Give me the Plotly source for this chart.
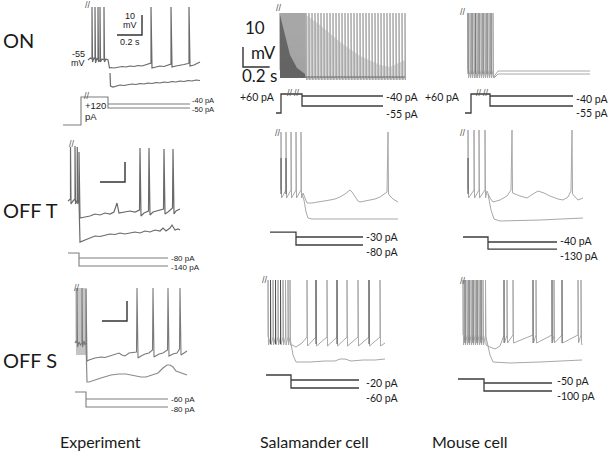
import plotly.graph_objects as go

W, H = 609, 460

# time in ms from the end of the conditioning step, Vm in mV, current in pA

# ON - experiment
on_exp_hi_t = [-160, -140, -128, -128, -124, -112, -104, -104, -100, -88, -80, -80, -76, -64, -64, -60, -48, -32, -32, -28, -16,
               0, 12, 24, 48, 80, 112, 144, 176, 208, 240, 272, 304, 336, 344, 344, 352, 384, 416, 448, 480, 504, 504,
               512, 544, 576, 608, 640, 648, 648, 656, 688, 720, 736]
on_exp_hi_v = [-55, -54, -54.5, -28.5, -56, -54, -54.5, -28.5, -56.5, -54, -55, -28.5, -56, -55, -28.5, -56, -54.5, -55, -28.5, -56, -54.5,
               -55, -59, -58.75, -59, -58.5, -58.25, -58.5, -58, -58.25, -57.75, -58, -57.5, -57, -56.5, -28.5, -59, -58.5, -58, -58.25, -57.5, -57, -28.5,
               -58.5, -58, -57.75, -57.25, -56.75, -56.5, -28.5, -58, -57.5, -56.75, -56]
on_exp_lo_t = [16, 20, 40, 64, 96, 128, 160, 192, 224, 256, 288, 320, 352, 384, 416, 448, 480, 512, 544, 576, 608, 640, 672, 704, 736]
on_exp_lo_v = [-61.5, -68, -68.5, -68, -67.5, -67.75, -67.25, -67, -67.25, -66.75, -67, -66.5, -66.75, -66.25, -66.5, -66,
               -66.25, -65.75, -66, -65.5, -65.75, -65.25, -65.5, -65, -65.25]
on_exp_prot_t = [-360, -216, 0, 656]
on_exp_prot_i = [-92.5, -22.5]
on_exp_steps = [-40, -50]
on_exp_pulse = 120
on_exp_rest = -55

# ON - salamander cell
on_sal_burst = [-165, -157.5, -150, -142.5, -135, -127.5, -120, -112.5, -105, -97.5, -90, -82.5, -75, -67.5, -60,
                -52.5, -45, -37.5, -30, -22.5, -15, -7.5, 0, 7.5, 15, 22.5]
on_sal_dark_t = [-165, -127.5, -90, -37.5, 22.5]
on_sal_dark_v = [-28.5, -38.5, -48.5, -55, -58]
on_sal_spikes = [30, 52.5, 75, 97.5, 120, 142.5, 165, 187.5, 210, 232.5, 255, 277.5, 300, 322.5, 345, 367.5, 390,
                 412.5, 435, 457.5, 480, 502.5, 525, 547.5, 570, 592.5, 615, 637.5, 660, 682.5, 705, 727.5, 750, 772.5]
on_sal_env_t = [30, 135, 285, 435, 585, 660, 772.5]
on_sal_env_v = [-28.5, -33.5, -42, -49, -53.5, -54.5, -51]
on_sal_lo_t = [22.5, 772.5]
on_sal_lo_v = [-59.5, -59.5]
on_sal_prot_t = [-195, -157.5, 0, 607.5]
on_sal_prot_i = [-65.5, -37]
on_sal_steps = [-40, -55]
on_sal_pulse = 60

# ON - mouse cell
on_mou_burst_dark = [-165, -135, -108.75, -82.5, -52.5, -22.5, 7.5]
on_mou_burst_light = [-150, -120, -97.5, -67.5, -37.5, -7.5, 22.5]
on_mou_hi_t = [30, 37.5, 60, 750]
on_mou_hi_v = [-60, -58.5, -56.5, -56.5]
on_mou_lo_t = [30, 37.5, 60, 750]
on_mou_lo_v = [-60, -59.5, -58, -58]
on_mou_prot_t = [-187.5, -142.5, 0, 622.5]
on_mou_prot_i = [-65.5, -37]
on_mou_steps = [-40, -55]
on_mou_pulse = 60

# OFF T - experiment
offt_exp_hi_t = [-88, -76, -68, -68, -64, -48, -32, -32, -28, -20, -14, -14, -10, -4, 0, 0,
                 8, 48, 88, 128, 168, 208, 248, 280, 304, 320, 368, 408, 448, 484, 488, 496, 520, 556, 560, 568,
                 592, 624, 648, 676, 680, 688, 712, 748, 752, 760, 776, 808]
offt_exp_hi_v = [-55.5, -55, -54.5, -28.5, -57, -55.5, -54.5, -28, -57, -56, -55, -28.5, -57, -56, -55, -31,
                 -64, -63.5, -63, -62, -62.5, -61.5, -62, -61, -56.5, -61.5, -61, -60.5, -61, -60, -29, -63, -61.5, -60.5, -29, -62.5,
                 -61, -60.5, -60, -59.5, -29.5, -62, -61, -59, -29.5, -62, -60.5, -59.5]
offt_exp_lo_t = [0, 8, 48, 88, 128, 168, 208, 248, 288, 328, 368, 408, 448, 488, 528, 568, 608, 648, 672, 696, 728, 744, 768, 792, 808]
offt_exp_lo_v = [-55, -76, -75, -74, -73, -73.25, -72.5, -72, -72.25, -71.5, -72, -71.5, -71, -71.5, -70.5, -71, -70, -70.5,
                 -69, -70.5, -69, -67.5, -70, -69.5, -70]
offt_exp_prot_t = [-88, 0, 712]
offt_exp_prot_i = [-42.5]
offt_exp_steps = [-80, -140]

# OFF T - salamander cell
offt_sal_burst = [-112.5, -75, -37.5, 0, 37.5]
offt_sal_hi_t = [52.5, 82.5, 120, 180, 255, 292.5, 330, 367.5, 390, 405, 420, 442.5, 465, 480, 517.5, 555, 592.5, 630,
                 667.5, 682.5, 690, 694, 705, 727.5, 765]
offt_sal_hi_v = [-57.5, -62.5, -62.5, -62, -61, -60.5, -59.5, -58, -56.5, -56, -57, -59.5, -61.5, -62, -61.5, -61, -60.5, -59.5,
                 -58, -57, -27, -58, -59, -60.5, -62]
offt_sal_lo_t = [45, 60, 75, 90, 120, 765]
offt_sal_lo_v = [-58, -61, -67, -70, -70.5, -70.5]
offt_sal_prot_t = [-195, 0, 502.5]
offt_sal_prot_i = [0]
offt_sal_steps = [-30, -80]

# OFF T - mouse cell
offt_mou_burst = [-150, -105, -67.5, -22.5]
offt_mou_hi_t = [-7.5, 15, 37.5, 90, 142.5, 172.5, 180, 184, 240, 292.5, 337.5, 375, 420, 465, 525, 562.5, 600, 622.5,
                 630, 634, 675, 712.5]
offt_mou_hi_v = [-56.5, -60, -62, -61, -59, -56, -26, -57.5, -59, -60, -58, -56.5, -57.5, -59, -60.5, -61, -59.5, -56.5,
                 -26, -58, -61, -60]
offt_mou_lo_t = [0, 22.5, 45, 90, 390, 712.5]
offt_mou_lo_v = [-58, -66, -70.5, -71.5, -71, -70]
offt_mou_prot_t = [-187.5, 0, 517.5]
offt_mou_prot_i = [22.5]
offt_mou_steps = [-40, -130]

# OFF S - experiment
offs_exp_burst = [-80, -72, -64, -56, -48, -40, -32, -24, -16, -8, 0]
offs_exp_hi_t = [-88, -80, -72, -72, -68, -56, -44, -32, -32, -28, -16, -8, 0, 0,
                 8, 24, 72, 120, 152, 184, 232, 264, 288, 312, 344, 384, 404, 408, 416, 440, 472, 504, 532, 536,
                 544, 584, 616, 652, 656, 664, 696, 728, 748, 752, 760, 784, 808]
offs_exp_hi_v = [-55, -54, -55, -27.5, -57, -54.5, -56, -55, -27.5, -57, -54, -56, -55, -28,
                 -64, -63.5, -62.5, -62, -62.25, -61.5, -60.5, -60, -61, -61.5, -60, -59.5, -59.5, -27.5, -62.5, -61.5, -60.5, -60, -58.5, -27.5,
                 -62, -60.5, -60, -58.5, -27.5, -61.5, -60.5, -60, -58, -27.5, -61, -60, -59]
offs_exp_lo_t = [0, 8, 24, 64, 120, 200, 264, 320, 384, 440, 480, 528, 576, 616, 648, 672, 696, 720, 760, 808]
offs_exp_lo_v = [-55, -74.5, -74.5, -73.5, -72.5, -71, -70.5, -70.5, -71.5, -72, -72, -71, -70, -67.5, -66, -66, -67, -69, -70, -71]
offs_exp_prot_t = [-88, 0, 656]
offs_exp_prot_i = [-42.5]
offs_exp_steps = [-60, -80]

# OFF S - salamander cell
offs_sal_burst = [-172.5, -153.75, -135, -116.25, -97.5, -78.75, -60, -41.25, -22.5, -7.5]
offs_sal_mid_t = [7.5, 37.5, 82.5]
offs_sal_mid_v = [-59.5, -60.5, -58.5]
offs_sal_spikes = [120, 187.5, 270, 345, 420, 502.5, 585, 667.5]
offs_sal_end = [705, -58.5]
offs_sal_dark = [-153.75, -116.25, -78.75, 187.5, 345, 585]
offs_sal_lo_t = [-7.5, 15, 37.5, 142.5, 255, 330, 367.5, 405, 450, 540, 630, 705]
offs_sal_lo_v = [-56, -64.5, -68, -68, -67.5, -67.5, -66.5, -66.5, -67.5, -67, -67, -66.5]
offs_sal_prot_t = [-187.5, 0, 510]
offs_sal_prot_i = [5]
offs_sal_steps = [-20, -60]

# OFF S - mouse cell
offs_mou_burst = [-157.5, -142.5, -127.5, -112.5, -97.5, -82.5, -67.5, -52.5, -37.5, -22.5, -7.5, 11.25]
offs_mou_mid_t = [45, 82.5, 120]
offs_mou_mid_v = [-61, -62, -60.5]
offs_mou_spikes = [150, 172.5, 217.5, 367.5, 390, 510, 525, 585, 705, 727.5]
offs_mou_end = [735, -60]
offs_mou_dark = [-142.5, -112.5, -82.5, -52.5, -22.5, 150, 367.5, 510, 585]
offs_mou_lo_t = [15, 45, 67.5, 195, 420, 735]
offs_mou_lo_v = [-56, -65, -68.5, -69, -68.5, -67.5]
offs_mou_prot_t = [-195, 0, 510]
offs_mou_prot_i = [-25]
offs_mou_steps = [-50, -100]

scale_ms = 200
scale_mv = 10

row_names = ["ON", "OFF T", "OFF S"]
col_names = ["Experiment", "Salamander cell", "Mouse cell"]

EXP = '#6a6a6a'
EXP_PROT = '#7c7c7c'
MOD = '#a8a8a8'
MOD_DARK = '#505050'
PROT = '#3c3c3c'

# panel geometry in pixels: column span, row span, x pixel of t=0, ms per px,
# pixel/value anchor for Vm (0.5 mV per px) and for current
panels = [
    dict(cols=(55, 215), rows=(0, 135), step=108, ms=8, vpy=60, v0=-55, ipy=104, i0=-40, pa=2.5),
    dict(cols=(230, 410), rows=(0, 135), step=302, ms=7.5, vpy=78, v0=-60, ipy=96, i0=-40, pa=1.5),
    dict(cols=(420, 605), rows=(0, 135), step=490, ms=7.5, vpy=78, v0=-60, ipy=96, i0=-40, pa=1.5),
    dict(cols=(55, 215), rows=(125, 280), step=79, ms=8, vpy=200, v0=-55, ipy=258, i0=-80, pa=7.5),
    dict(cols=(230, 410), rows=(125, 280), step=296, ms=7.5, vpy=198, v0=-60, ipy=237, i0=-30, pa=6.25),
    dict(cols=(420, 605), rows=(125, 280), step=488, ms=7.5, vpy=198, v0=-60, ipy=242, i0=-40, pa=12.5),
    dict(cols=(55, 215), rows=(270, 420), step=86, ms=8, vpy=343, v0=-55, ipy=399, i0=-60, pa=2.5),
    dict(cols=(230, 410), rows=(270, 420), step=291, ms=7.5, vpy=346, v0=-60, ipy=380, i0=-20, pa=5),
    dict(cols=(420, 605), rows=(270, 420), step=484, ms=7.5, vpy=345, v0=-60, ipy=383, i0=-50, pa=6.25),
]

fig = go.Figure()
layout = dict(width=W, height=H, margin=dict(l=0, r=0, t=0, b=0), showlegend=False,
              paper_bgcolor='white', plot_bgcolor='rgba(0,0,0,0)')


def name(prefix, n, long=False):
    if long:
        return prefix + ('axis' if n == 1 else 'axis%d' % n)
    return prefix if n == 1 else '%s%d' % (prefix, n)


for k, p in enumerate(panels, start=1):
    c0, c1 = p['cols']
    r0, r1 = p['rows']
    layout[name('x', k, True)] = dict(domain=[c0 / W, c1 / W], visible=False, anchor=name('y', 2 * k - 1),
                                      range=[(c0 - p['step']) * p['ms'], (c1 - p['step']) * p['ms']])
    ydom = [1 - r1 / H, 1 - r0 / H]
    layout[name('y', 2 * k - 1, True)] = dict(domain=ydom, visible=False, anchor=name('x', k),
                                              range=[p['v0'] - (r1 - p['vpy']) * 0.5, p['v0'] + (p['vpy'] - r0) * 0.5])
    layout[name('y', 2 * k, True)] = dict(visible=False, anchor=name('x', k), overlaying=name('y', 2 * k - 1),
                                          range=[p['i0'] - (r1 - p['ipy']) * p['pa'], p['i0'] + (p['ipy'] - r0) * p['pa']])


def add(k, kind, t, v, color, width=1.0, fill=None, fillcolor=None):
    yid = 2 * k - 1 if kind == 'v' else 2 * k
    fig.add_trace(go.Scatter(x=t, y=v, mode='lines', line=dict(color=color, width=width),
                             fill=fill, fillcolor=fillcolor,
                             xaxis=name('x', k), yaxis=name('y', yid), hoverinfo='skip'))


def train(times, peak, trough, thresh, w=4):
    t, v = [], []
    for s in times:
        t += [s, s, s + w]
        v += [thresh, peak, trough]
    return t, v


def sticks(times, lo, hi):
    t, v = [], []
    for s in times:
        t += [s, s, None]
        v += [lo, hi, None]
    return t, v


def protocol(k, ts, pre, steps, color, width):
    x, y = [ts[0]], [pre[0]]
    for j in range(1, len(pre)):
        x += [ts[j], ts[j]]
        y += [pre[j - 1], pre[j]]
    lo = min(steps)
    x += [ts[-2], ts[-2], ts[-1]]
    y += [pre[-1], lo, lo]
    add(k, 'i', x, y, color, width)
    for s in steps:
        if s != lo:
            add(k, 'i', [ts[-2], ts[-1]], [s, s], color, width)


def scalebar(k, t, v, side):
    if side == 'right':
        add(k, 'v', [t - scale_ms, t, t], [v, v, v + scale_mv], '#333333', 1.4)
    else:
        add(k, 'v', [t, t, t + scale_ms], [v + scale_mv, v, v], '#333333', 1.4)


# ---- ON ----
add(1, 'v', on_exp_lo_t, on_exp_lo_v, EXP, 1.2)
add(1, 'v', on_exp_hi_t, on_exp_hi_v, EXP, 1.2)
scalebar(1, 272, -42.5, 'right')
protocol(1, on_exp_prot_t, on_exp_prot_i, on_exp_steps, EXP_PROT, 1.1)

add(2, 'v', on_sal_env_t + [772.5, 30], on_sal_env_v + [-61, -61], 'rgba(0,0,0,0)', 0, 'toself', '#d8d8d8')
t, v = train(on_sal_burst, -27.5, -60, -56)
add(2, 'v', t, v, '#a2a2a2', 1.0)
add(2, 'v', on_sal_dark_t + [22.5, -165], on_sal_dark_v + [-60, -60], 'rgba(0,0,0,0)', 0, 'toself', 'rgba(50,50,50,0.55)')
t, v = train(on_sal_spikes, -27.5, -61, -59.5)
add(2, 'v', t, v, MOD, 1.0)
add(2, 'v', on_sal_lo_t, on_sal_lo_v, '#666666', 1.0)
scalebar(2, -442.5, -54.5, 'left')
protocol(2, on_sal_prot_t, on_sal_prot_i, on_sal_steps, PROT, 1.3)

t, v = train(sorted(on_mou_burst_dark + on_mou_burst_light), -27.5, -60, -56)
add(3, 'v', t, v, MOD, 1.0)
t, v = sticks(on_mou_burst_dark, -58, -27.5)
add(3, 'v', t, v, '#7a7a7a', 1.0)
add(3, 'v', on_mou_lo_t, on_mou_lo_v, MOD, 1.0)
add(3, 'v', on_mou_hi_t, on_mou_hi_v, MOD, 1.0)
protocol(3, on_mou_prot_t, on_mou_prot_i, on_mou_steps, PROT, 1.3)

# ---- OFF T ----
add(4, 'v', offt_exp_lo_t, offt_exp_lo_v, EXP, 1.2)
add(4, 'v', offt_exp_hi_t, offt_exp_hi_v, EXP, 1.2)
scalebar(4, 368, -46, 'right')
protocol(4, offt_exp_prot_t, offt_exp_prot_i, offt_exp_steps, EXP_PROT, 1.1)

add(5, 'v', offt_sal_lo_t, offt_sal_lo_v, MOD, 1.0)
t, v = train(offt_sal_burst, -27, -60, -56)
add(5, 'v', t + offt_sal_hi_t, v + offt_sal_hi_v, MOD, 1.0)
t, v = sticks(offt_sal_burst[:2], -58, -40)
add(5, 'v', t, v, MOD_DARK, 1.0)
protocol(5, offt_sal_prot_t, offt_sal_prot_i, offt_sal_steps, PROT, 1.3)

add(6, 'v', offt_mou_lo_t, offt_mou_lo_v, MOD, 1.0)
t, v = train(offt_mou_burst, -26, -60, -56)
add(6, 'v', t + offt_mou_hi_t, v + offt_mou_hi_v, MOD, 1.0)
t, v = sticks(offt_mou_burst[:1], -58, -40)
add(6, 'v', t, v, MOD_DARK, 1.0)
protocol(6, offt_mou_prot_t, offt_mou_prot_i, offt_mou_steps, PROT, 1.3)

# ---- OFF S ----
t, v = train(offs_exp_burst, -27.5, -61, -54)
add(7, 'v', t, v, '#c4c4c4', 1.0)
add(7, 'v', offs_exp_lo_t, offs_exp_lo_v, '#8a8a8a', 1.2)
add(7, 'v', offs_exp_hi_t, offs_exp_hi_v, '#7a7a7a', 1.1)
scalebar(7, 328, -44, 'right')
protocol(7, offs_exp_prot_t, offs_exp_prot_i, offs_exp_steps, EXP_PROT, 1.1)

add(8, 'v', offs_sal_lo_t, offs_sal_lo_v, MOD, 1.0)
t1, v1 = train(offs_sal_burst, -27, -59.5, -55.5)
t2, v2 = train(offs_sal_spikes, -27, -60, -55.5)
add(8, 'v', t1 + offs_sal_mid_t + t2 + offs_sal_end[:1], v1 + offs_sal_mid_v + v2 + offs_sal_end[1:], MOD, 1.0)
t, v = sticks(offs_sal_dark, -59, -27)
add(8, 'v', t, v, MOD_DARK, 1.0)
protocol(8, offs_sal_prot_t, offs_sal_prot_i, offs_sal_steps, PROT, 1.3)

add(9, 'v', offs_mou_lo_t, offs_mou_lo_v, MOD, 1.0)
t1, v1 = train(offs_mou_burst, -27.5, -60, -55)
t2, v2 = train(offs_mou_spikes, -27.5, -59, -55)
add(9, 'v', t1 + offs_mou_mid_t + t2 + offs_mou_end[:1], v1 + offs_mou_mid_v + v2 + offs_mou_end[1:], MOD, 1.0)
t, v = sticks(offs_mou_dark, -59, -27.5)
add(9, 'v', t, v, '#707070', 1.0)
protocol(9, offs_mou_prot_t, offs_mou_prot_i, offs_mou_steps, PROT, 1.3)

# ---- text ----
ann = []


def note(text, x, y, size, font='Lato', anchor='left', color='#1a1a1a'):
    ann.append(dict(text=text, x=x / W, y=1 - y / H, xref='paper', yref='paper', showarrow=False,
                    xanchor=anchor, yanchor='middle', font=dict(family=font, size=size, color=color)))


for txt, y in zip(row_names, [40, 210, 360]):
    note(txt, 1, y, 20)
for txt, x in zip(col_names, [100, 314, 470]):
    note(txt, x, 441, 16, anchor='center')

AR = 'Liberation Sans'
note('10', 130, 16, 9, AR, 'center')
note('mV', 130, 25, 9, AR, 'center')
note('0.2 s', 130, 42, 9, AR, 'center')
note('%d' % on_exp_rest, 78, 54, 9, AR, 'center')
note('mV', 78, 63, 9, AR, 'center')
note('+%d' % on_exp_pulse, 83, 105, 9.5, AR)
note('pA', 83, 116, 9.5, AR)
note('10', 255, 28, 17, anchor='center')
note('mV', 263, 52, 17, anchor='center')
note('0.2 s', 259, 76, 17, anchor='center')
note('+%d pA' % on_sal_pulse, 257, 97, 10.5, anchor='center')
note('+%d pA' % on_mou_pulse, 462, 97, 10.5, anchor='right')

step_labels = [
    (on_exp_steps, 190, [101, 110], 7.5, AR),
    (on_sal_steps, 384, [97, 114], 10.5, 'Lato'),
    (on_mou_steps, 574, [99, 113], 10.5, 'Lato'),
    (offt_exp_steps, 169, [258, 267], 8, AR),
    (offt_sal_steps, 364, [237, 252], 10.5, 'Lato'),
    (offt_mou_steps, 558, [241, 256], 10.5, 'Lato'),
    (offs_exp_steps, 169, [399, 409], 8, AR),
    (offs_sal_steps, 364, [383, 398], 10.5, 'Lato'),
    (offs_mou_steps, 555, [381, 396], 10.5, 'Lato'),
]
for steps, x, ys, size, font in step_labels:
    for s, y in zip(steps, ys):
        note('%d pA' % s, x, y, size, font)

for x, y in [(88, 5), (87, 96), (279, 8), (290, 93), (297, 93), (463, 12), (479, 93), (486, 93),
             (72, 144), (278, 133), (463, 133), (77, 288), (265, 280), (463, 281)]:
    note('//', x, y, 9, AR, 'center', '#555555')

layout['annotations'] = ann
fig.update_layout(**layout)
fig.write_html("out.html", config={'displayModeBar': False}, post_script="document.body.style.margin='0px';")
